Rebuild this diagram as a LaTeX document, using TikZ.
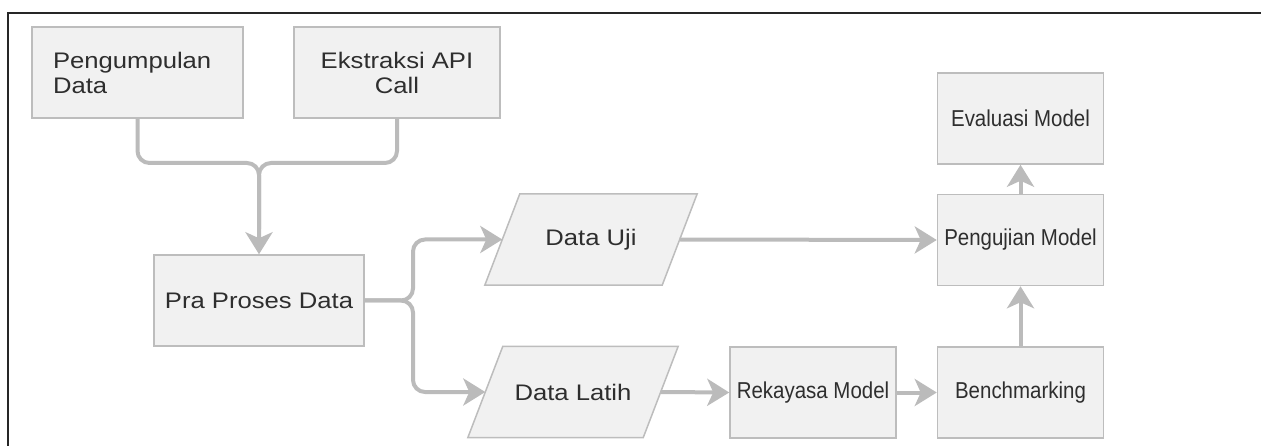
\documentclass[tikz,border=0pt]{standalone}
\usepackage{fontspec}
\setmainfont{Liberation Sans}
\newfontfamily\lfont[FakeStretch=1.14]{Liberation Sans}
\newfontfamily\rfont[FakeStretch=0.89]{Liberation Sans}
\usetikzlibrary{arrows.meta,calc,backgrounds}
\definecolor{boxfill}{HTML}{F1F1F1}
\definecolor{boxline}{HTML}{BDBDBD}
\definecolor{arrowc}{HTML}{BBBBBB}
\definecolor{txt}{HTML}{2E2E2E}
\tikzset{
  procbox/.style={draw=boxline, fill=boxfill, line width=1.5pt, inner sep=0pt,
    minimum height=91pt, text=txt},
  lefttxt/.style={font=\lfont\fontsize{22.5}{25}\selectfont},
  righttxt/.style={font=\rfont\fontsize{23}{25}\selectfont},
  iobox/.style={inner sep=0pt, minimum height=91pt, text=txt},
  ioshape/.style={draw=boxline, fill=boxfill, line width=1.5pt},
  conn/.style={draw=arrowc, line width=4pt, rounded corners=12pt},
  arr/.style={conn, -{Stealth[length=22pt, width=27pt, inset=6pt]}},
  frame/.style={draw=black!85, line width=1.6pt}
}
\begin{document}
\begin{tikzpicture}[x=1pt, y=-1pt]
\useasboundingbox (0,0) rectangle (1261,446);
\draw[frame] (8,446) -- (8,13) -- (1261,13);

% top boxes
\node[procbox, lefttxt, minimum width=211pt, text width=169pt, inner xsep=21pt, align=left] (peng) at (137.5,72.5) {Pengumpulan\\Data};
\node[procbox, lefttxt, minimum width=206pt, align=center] (ekst) at (397,72.5) {Ekstraksi API\\Call};
\node[procbox, lefttxt, minimum width=210pt] (pra) at (259,300.5) {Pra Proses Data};

% data nodes (parallelograms)
\node[iobox, lefttxt, minimum width=177pt] (uji) at (591,239.5) {Data Uji};
\node[iobox, lefttxt, minimum width=175pt] (latih) at (573,392) {Data Latih};
\begin{scope}[on background layer]
\draw[ioshape] ($(uji.south west)+(-17.5,0)$) -- ($(uji.north west)+(17.5,0)$) -- ($(uji.north east)+(17.5,0)$) -- ($(uji.south east)+(-17.5,0)$) -- cycle;
\draw[ioshape] ($(latih.south west)+(-17.5,0)$) -- ($(latih.north west)+(17.5,0)$) -- ($(latih.north east)+(17.5,0)$) -- ($(latih.south east)+(-17.5,0)$) -- cycle;
\end{scope}

% right boxes
\node[procbox, righttxt, minimum width=166pt] (reka) at (813,392.5) {Rekayasa Model};
\node[procbox, righttxt, minimum width=166pt] (bench) at (1020.5,392.5) {Benchmarking};
\node[procbox, righttxt, minimum width=166pt] (uji2) at (1020.5,240) {Pengujian Model};
\node[procbox, righttxt, minimum width=166pt] (eval) at (1020.5,118.5) {Evaluasi Model};

% connectors
\coordinate (merge) at (259,163);
\coordinate (split) at (413,300.5);
\draw[arr] (peng.south) |- (merge) -- (pra.north);
\draw[conn] (ekst.south) |- (merge) -- ($(pra.north)+(0,-25)$);
\draw[arr] (pra.east) -- (split) |- (uji.west);
\draw[arr] (pra.east) -- (split) |- (latih.west);
\draw[arr] (uji.east) -- (uji2.west);
\draw[arr] (latih.east) -- (reka.west);
\draw[arr] (reka.east) -- (bench.west);
\draw[arr] (bench.north) -- (uji2.south);
\draw[arr] (uji2.north) -- (eval.south);
\end{tikzpicture}
\end{document}
